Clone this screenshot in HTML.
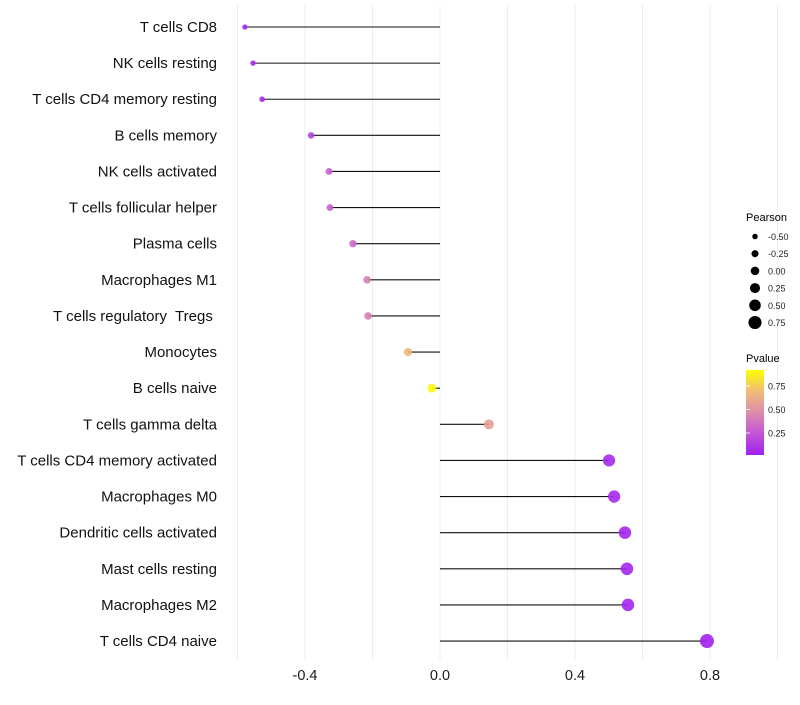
<!DOCTYPE html>
<html><head><meta charset="utf-8"><style>
body{margin:0;background:#fff;font-family:"Liberation Sans",sans-serif}
text{white-space:pre}
</style></head><body>
<svg id="chart" width="800" height="700" xmlns="http://www.w3.org/2000/svg" font-family="Liberation Sans, sans-serif">
<defs><linearGradient id="pg" x1="0" y1="1" x2="0" y2="0">
<stop offset="0" stop-color="#a020f0"/><stop offset="0.3" stop-color="#c860d0"/><stop offset="0.5" stop-color="#dc8caa"/><stop offset="0.75" stop-color="#f0bc78"/><stop offset="1" stop-color="#ffff00"/></linearGradient></defs>
<g id="grid"></g><g id="marks"></g><g id="labels"></g>
<g id="legend">
<text x="746" y="221" font-size="11" fill="#000">Pearson</text>
<text x="746" y="362" font-size="11" fill="#000">Pvalue</text>
<rect x="746" y="370" width="18" height="85" fill="url(#pg)"/>
</g>
</svg>
<script>
const categories=["T cells CD8","NK cells resting","T cells CD4 memory resting","B cells memory","NK cells activated","T cells follicular helper","Plasma cells","Macrophages M1","T cells regulatory  Tregs ","Monocytes","B cells naive","T cells gamma delta","T cells CD4 memory activated","Macrophages M0","Dendritic cells activated","Mast cells resting","Macrophages M2","T cells CD4 naive"];
const pearson=[-0.578,-0.554,-0.527,-0.382,-0.329,-0.326,-0.258,-0.216,-0.213,-0.095,-0.024,0.145,0.501,0.516,0.548,0.554,0.557,0.791];
const pvalue=[0.03,0.04,0.05,0.15,0.3,0.3,0.35,0.45,0.45,0.72,0.97,0.6,0.04,0.04,0.03,0.03,0.03,0.01];
const xTicks=[-0.4,0,0.4,0.8];
const xTickLabels=["-0.4","0.0","0.4","0.8"];
const sizeLegend=[-0.5,-0.25,0,0.25,0.5,0.75];
const sizeLegendLabels=["-0.50","-0.25","0.00","0.25","0.50","0.75"];
const pLegend=[0.25,0.5,0.75];
const pLegendLabels=["0.25","0.50","0.75"];
const NS="http://www.w3.org/2000/svg";
const X=v=>440+v*337.5;
const Y=i=>27+i*36.12;
const R=v=>4.5+3.2*v;
const PY=p=>456.5-p*94;
const stops=[[0,[160,32,240]],[0.3,[200,96,208]],[0.5,[220,140,170]],[0.75,[240,188,120]],[1,[255,255,0]]];
function col(p){for(let i=1;i<stops.length;i++){if(p<=stops[i][0]){const a=stops[i-1],b=stops[i],t=(p-a[0])/(b[0]-a[0]);return"rgb("+a[1].map((c,k)=>Math.round(c+(b[1][k]-c)*t)).join(",")+")";}}return"rgb(255,255,0)";}
function mk(tag,at,par){const e=document.createElementNS(NS,tag);for(const k in at)e.setAttribute(k,at[k]);document.getElementById(par).appendChild(e);return e;}
for(let v=-0.6;v<=1.01;v+=0.2){const g=mk("line",{x1:X(v),x2:X(v),y1:5,y2:660,stroke:"#ededed","stroke-width":1},"grid");

}
xTicks.forEach((v,i)=>{const t=mk("text",{x:X(v),y:680,"font-size":14.5,"text-anchor":"middle",fill:"#1a1a1a"},"labels");t.textContent=xTickLabels[i];

});
categories.forEach((c,i)=>{
const l=mk("line",{x1:X(0),x2:X(pearson[i]),y1:Y(i),y2:Y(i),stroke:"#111","stroke-width":1.1},"marks");


const d=mk("circle",{cx:X(pearson[i]),cy:Y(i),r:R(pearson[i]),fill:col(pvalue[i]),"fill-opacity":0.9},"marks");


const t=mk("text",{x:217,y:Y(i)+5,"font-size":15,"text-anchor":"end",fill:"#111"},"labels");t.textContent=c;

});
sizeLegend.forEach((v,i)=>{const y=236.5+i*17.2;
const c=mk("circle",{cx:755,cy:y,r:R(v)*0.95,fill:"#000"},"legend");


const t=mk("text",{x:768,y:y+3.5,"font-size":9,fill:"#222"},"legend");t.textContent=sizeLegendLabels[i];

});
pLegend.forEach((p,i)=>{const y=PY(p);
const k=mk("line",{x1:746,x2:750,y1:y,y2:y,stroke:"#fff","stroke-width":0.8},"legend");


const t=mk("text",{x:768,y:y+3.5,"font-size":9,fill:"#222"},"legend");t.textContent=pLegendLabels[i];

});
</script>
</body></html>
